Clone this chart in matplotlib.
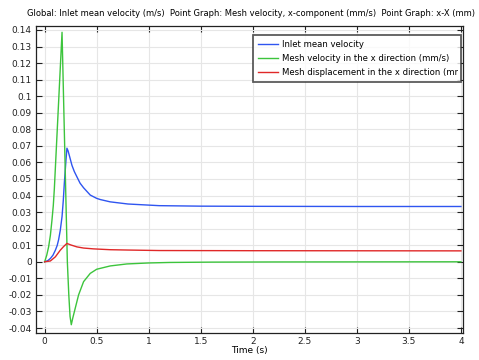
import matplotlib
matplotlib.use("Agg")
import matplotlib.pyplot as plt
from matplotlib.ticker import MultipleLocator, FuncFormatter
from matplotlib.transforms import Bbox

# Data
t_blue = [0, 0.03, 0.055, 0.08, 0.103, 0.12, 0.134, 0.15, 0.167, 0.179, 0.189, 0.205, 0.214, 0.225, 0.24, 0.262, 0.285, 0.31, 0.34, 0.374, 0.438, 0.5, 0.534, 0.63, 0.8, 1.1, 1.5, 2.0, 3.0, 4.0]
inlet_velocity = [0, 0.0007, 0.002, 0.004, 0.007, 0.0098, 0.0133, 0.019, 0.0273, 0.037, 0.0474, 0.0615, 0.0686, 0.067, 0.0635, 0.0583, 0.0545, 0.0513, 0.0475, 0.0447, 0.0403, 0.0383, 0.0376, 0.0362, 0.0349, 0.0339, 0.0336, 0.0335, 0.0334, 0.0334]

t_green = [0, 0.02, 0.038, 0.055, 0.07, 0.083, 0.093, 0.167, 0.218, 0.232, 0.244, 0.256, 0.27, 0.294, 0.326, 0.374, 0.438, 0.5, 0.63, 0.79, 1.0, 1.2, 1.6, 2.2, 4.0]
mesh_velocity = [0, 0.004, 0.009, 0.016, 0.025, 0.034, 0.044, 0.1386, 0.0, -0.02, -0.033, -0.038, -0.034, -0.028, -0.02, -0.012, -0.007, -0.0045, -0.0025, -0.0013, -0.0007, -0.0004, -0.0002, -0.0001, 0.0]

t_red = [0, 0.055, 0.103, 0.15, 0.182, 0.214, 0.25, 0.31, 0.374, 0.47, 0.63, 0.8, 1.1, 2.0, 4.0]
mesh_disp = [0, 0.0005, 0.003, 0.007, 0.0092, 0.0111, 0.0102, 0.009, 0.0083, 0.0078, 0.0073, 0.0071, 0.0068, 0.0067, 0.0066]

labels = ["Inlet mean velocity",
          "Mesh velocity in the x direction (mm/s)",
          "Mesh displacement in the x direction (mm)"]
title = "Global: Inlet mean velocity (m/s)  Point Graph: Mesh velocity, x-component (mm/s)  Point Graph: x-X (mm)"

DPI = 100
fig = plt.figure(figsize=(4.79, 3.6), dpi=DPI)
ax = fig.add_axes([0.0752, 0.075, 0.8914, 0.8528])

ax.plot(t_blue, inlet_velocity, color="#2f55f0", lw=1.0, label=labels[0])
ax.plot(t_green, mesh_velocity, color="#3cc43c", lw=1.0, label=labels[1])
ax.plot(t_red, mesh_disp, color="#e02828", lw=1.0, label=labels[2])

ax.set_xlim(-0.083, 4.02)
ax.set_ylim(-0.0430, 0.1424)
ax.xaxis.set_major_locator(MultipleLocator(0.5))
ax.yaxis.set_major_locator(MultipleLocator(0.01))
ax.xaxis.set_major_formatter(FuncFormatter(lambda v, p: "%g" % round(v, 4)))
ax.yaxis.set_major_formatter(FuncFormatter(lambda v, p: "%g" % round(v, 4)))
ax.grid(True, color="#e6e6e6", lw=0.8)
ax.set_axisbelow(True)
ax.tick_params(direction="in", top=True, right=True, labelsize=6.5, length=4, width=0.8, pad=3, colors="#222222")
for s in ax.spines.values():
    s.set_color("#222222")
    s.set_linewidth(0.9)
ax.set_xlabel("Time (s)", fontsize=6.5, labelpad=0)
fig.text(0.524, 0.962, title, ha="center", va="center", fontsize=6.0)

leg = ax.legend(loc="upper left", bbox_to_anchor=(0.5082, 0.7818, 0.486, 0.1889), mode="expand",
                fontsize=6.1, frameon=True, fancybox=False, edgecolor="#333333",
                handlelength=2.4, borderpad=0.55, labelspacing=0.62, handletextpad=0.5,
                borderaxespad=0)
leg.get_frame().set_linewidth(1.3)

# clip legend texts to legend frame (reference truncates the last label)
fig.canvas.draw()
bb = leg.get_frame().get_window_extent()
clip = Bbox.from_extents(bb.x0, bb.y0, bb.x1 - 3, bb.y1)
for txt in leg.get_texts():
    txt.set_clip_on(True)
    txt.set_clip_box(clip)

fig.savefig("out.png", dpi=DPI)
